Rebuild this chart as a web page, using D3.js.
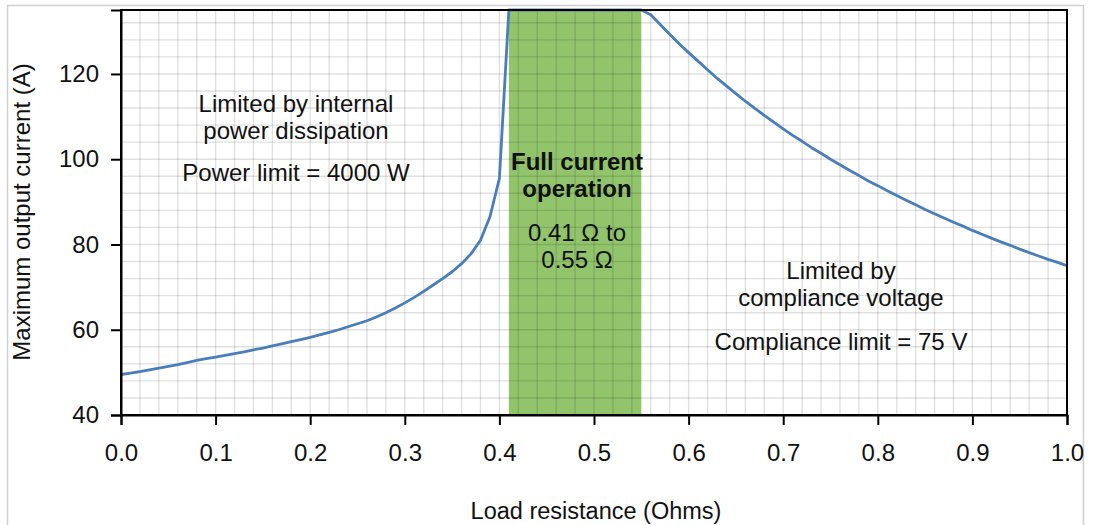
<!DOCTYPE html>
<html>
<head>
<meta charset="utf-8">
<script src="https://cdn.jsdelivr.net/npm/d3@7/dist/d3.min.js"></script>
<style>
  html, body { margin: 0; padding: 0; background: #fff; }
  svg { display: block; font-family: "Liberation Sans", Arial, sans-serif; }
</style>
</head>
<body>
<svg id="chart" width="1093" height="525"></svg>
<script>
// ---- Data ----
const resistance = [
  0.00,0.01,0.02,0.03,0.04,0.05,0.06,0.07,0.08,0.09,
  0.10,0.11,0.12,0.13,0.14,0.15,0.16,0.17,0.18,0.19,
  0.20,0.21,0.22,0.23,0.24,0.25,0.26,0.27,0.28,0.29,
  0.30,0.31,0.32,0.33,0.34,0.35,0.36,0.37,0.38,0.39,
  0.40,0.41,0.42,0.43,0.44,0.45,0.46,0.47,0.48,0.49,
  0.50,0.51,0.52,0.53,0.54,0.55,0.56,0.57,0.58,0.59,
  0.60,0.61,0.62,0.63,0.64,0.65,0.66,0.67,0.68,0.69,
  0.70,0.71,0.72,0.73,0.74,0.75,0.76,0.77,0.78,0.79,
  0.80,0.81,0.82,0.83,0.84,0.85,0.86,0.87,0.88,0.89,
  0.90,0.91,0.92,0.93,0.94,0.95,0.96,0.97,0.98,0.99,
  1.00
];
const maxCurrent = [
  49.5,49.8,50.2,50.6,51.0,51.4,51.8,52.3,52.8,53.2,
  53.6,54.0,54.4,54.8,55.3,55.7,56.2,56.7,57.2,57.7,
  58.2,58.8,59.4,60.0,60.7,61.4,62.1,63.0,64.0,65.1,
  66.3,67.6,69.0,70.5,72.0,73.6,75.5,77.8,81.0,86.5,
  95.5,135,135,135,135,135,135,135,135,135,
  135,135,135,135,135,135,133.9,131.6,129.3,127.1,
  125.0,123.0,121.0,119.0,117.2,115.4,113.6,111.9,110.3,108.7,
  107.1,105.6,104.2,102.7,101.4,100.0,98.7,97.4,96.2,94.9,
  93.8,92.6,91.5,90.4,89.3,88.2,87.2,86.2,85.2,84.3,
  83.3,82.4,81.5,80.6,79.8,78.9,78.1,77.3,76.5,75.8,
  75.0
];
const fullCurrentRange = [0.41, 0.55];
const xTicks = [0.0,0.1,0.2,0.3,0.4,0.5,0.6,0.7,0.8,0.9,1.0];
const yTicks = [40,60,80,100,120];
const xDomain = [0, 1];
const yDomain = [40, 135];
const xTitle = "Load resistance (Ohms)";
const yTitle = "Maximum output current (A)";
const leftNote = ["Limited by internal", "power dissipation", "Power limit = 4000 W"];
const midNote = ["Full current", "operation", "0.41 \u03A9 to", "0.55 \u03A9"];
const rightNote = ["Limited by", "compliance voltage", "Compliance limit = 75 V"];

// ---- Layout ----
const W = 1093, H = 525;
const m = { left: 121, right: 1093 - 1067, top: 10, bottom: 525 - 415 };
const svg = d3.select("#chart");

// outer frame
svg.append("path")
  .attr("d", `M7.5,${H} V5.5 H1083.5 V${H}`)
  .attr("fill", "none").attr("stroke", "#d0d0d0").attr("stroke-width", 1.5);

const x = d3.scaleLinear().domain(xDomain).range([m.left, W - m.right]);
const y = d3.scaleLinear().domain(yDomain).range([H - m.bottom, m.top]);

// green band
svg.append("rect")
  .attr("x", x(fullCurrentRange[0]))
  .attr("y", y(yDomain[1]))
  .attr("width", x(fullCurrentRange[1]) - x(fullCurrentRange[0]))
  .attr("height", y(yDomain[0]) - y(yDomain[1]))
  .attr("fill", "#92c46c");

// grid
const g = svg.append("g").attr("stroke", "#000").attr("stroke-opacity", 0.12).attr("stroke-width", 1.4);
const vGrid = d3.range(0, 51).map(i => i / 50);
g.selectAll("line.v").data(vGrid).join("line")
  .attr("x1", d => x(d)).attr("x2", d => x(d))
  .attr("y1", y(yDomain[0])).attr("y2", y(yDomain[1]));
const hGrid = d3.range(40, 136, 4);
g.selectAll("line.h").data(hGrid).join("line")
  .attr("y1", d => y(d)).attr("y2", d => y(d))
  .attr("x1", x(0)).attr("x2", x(1));

// annotations: one text element per block, lines as tspans
function note(lines, cx, ys, bold) {
  const t = svg.append("text").attr("font-size", 24).attr("fill", "#111")
    .attr("text-anchor", "middle");
  lines.forEach((s, i) => {
    t.append("tspan").attr("x", cx).attr("y", ys[i] + 8)
      .attr("font-weight", bold && bold[i] ? "bold" : "normal").text(s);
  });
}
note(leftNote, 296, [104, 131, 173]);
note(midNote, 577, [162, 189, 233, 260], [true, true, false, false]);
note(rightNote, 841, [271, 298, 342]);

// line
const pts = resistance.map((r, i) => [r, maxCurrent[i]]);
svg.append("path")
  .datum(pts)
  .attr("fill", "none")
  .attr("stroke", "#4a7ebb")
  .attr("stroke-width", 2.8)
  .attr("stroke-linejoin", "round")
  .attr("d", d3.line().x(d => x(d[0])).y(d => y(d[1])));

// frame
svg.append("rect")
  .attr("x", x(0)).attr("y", y(yDomain[1]))
  .attr("width", x(1) - x(0)).attr("height", y(yDomain[0]) - y(yDomain[1]))
  .attr("fill", "none").attr("stroke", "#000").attr("stroke-width", 2);

// axes
const xAxis = d3.axisBottom(x).tickValues(xTicks).tickFormat(d3.format(".1f")).tickSize(10).tickPadding(19);
const gx = svg.append("g").attr("transform", `translate(0,${y(yDomain[0])})`).call(xAxis);
gx.select(".domain").attr("stroke", "#000").attr("stroke-width", 2);
gx.selectAll(".tick line").attr("stroke", "#000").attr("stroke-width", 2);
gx.selectAll(".tick text").attr("font-size", 24).attr("fill", "#111").attr("font-family", "Liberation Sans, Arial, sans-serif");

const yAxis = d3.axisLeft(y).tickValues(yTicks).tickSize(10).tickPadding(12);
const gy = svg.append("g").attr("transform", `translate(${x(0)},0)`).call(yAxis);
gy.select(".domain").attr("stroke", "#000").attr("stroke-width", 2);
gy.selectAll(".tick line").attr("stroke", "#000").attr("stroke-width", 2);
gy.selectAll(".tick text").attr("font-size", 24).attr("fill", "#111").attr("font-family", "Liberation Sans, Arial, sans-serif");

// titles
svg.append("text").attr("x", 596).attr("y", 511).attr("dy", "0.35em")
  .attr("text-anchor", "middle").attr("font-size", 23.5).attr("fill", "#111").text(xTitle);
svg.append("text").attr("transform", `translate(22,212) rotate(-90)`).attr("dy", "0.35em")
  .attr("text-anchor", "middle").attr("font-size", 24).attr("fill", "#111").text(yTitle);
</script>
</body>
</html>
